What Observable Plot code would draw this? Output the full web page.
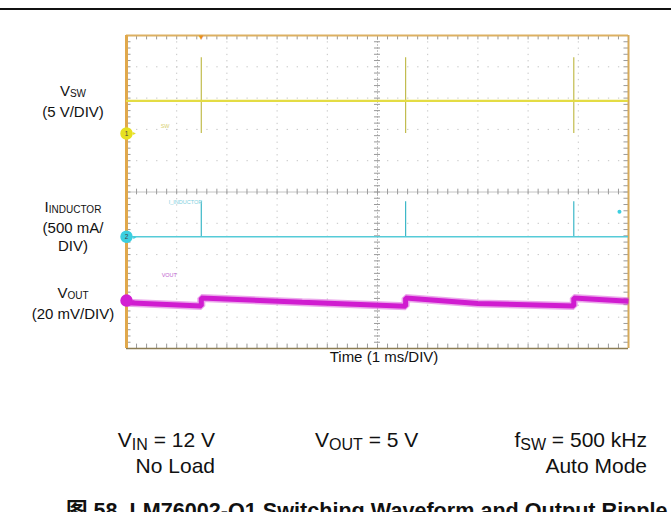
<!DOCTYPE html>
<html>
<head>
<meta charset="utf-8">
<script src="https://cdn.jsdelivr.net/npm/d3@7"></script>
<script src="https://cdn.jsdelivr.net/npm/@observablehq/plot@0.6"></script>
<style>
  html, body { margin: 0; padding: 0; background: #fff; }
  #wrap { position: relative; width: 671px; height: 512px; overflow: hidden;
          font-family: "Liberation Sans", Arial, "Noto Sans CJK SC", sans-serif; color: #111; }
  .lbl { position: absolute; text-align: center; font-size: 15px; line-height: 18px; white-space: nowrap; }
  .lbl .s { font-size: 10px; vertical-align: -1px; }
  .cond { position: absolute; font-size: 21px; line-height: 24px; white-space: nowrap; }
  .cond .s { font-size: 16px; vertical-align: -3px; }
  #title { position: absolute; left: 66px; top: 499px; font-size: 21.6px; line-height: 24px;
           font-weight: bold; white-space: nowrap; }
</style>
</head>
<body>
<div id="wrap">
  <div id="chart" style="position:absolute;left:0;top:0"></div>
  <div style="position:absolute;left:0;top:8px;width:671px;height:2px;background:#111"></div>

  <div class="lbl" style="left:13px;width:120px;top:82px">V<span class="s">SW</span><br>(5 V/DIV)</div>
  <div class="lbl" style="left:13px;width:120px;top:198px">I<span class="s">INDUCTOR</span><br>(500 mA/<br>DIV)</div>
  <div class="lbl" style="left:13px;width:120px;top:284px">V<span class="s">OUT</span><br>(20 mV/DIV)</div>
  <div class="lbl" style="left:284px;width:200px;top:348px">Time (1 ms/DIV)</div>

  <div class="cond" style="right:456px;top:428px;text-align:right">V<span class="s">IN</span> = 12 V</div>
  <div class="cond" style="right:456px;top:454px;text-align:right">No Load</div>
  <div class="cond" style="left:315px;top:428px">V<span class="s">OUT</span> = 5 V</div>
  <div class="cond" style="right:24px;top:428px;text-align:right">f<span class="s">SW</span> = 500 kHz</div>
  <div class="cond" style="right:24px;top:454px;text-align:right">Auto Mode</div>

  <div id="title">图 58. LM76002-Q1 Switching Waveform and Output Ripple</div>
</div>
<script>
// ---- data (time in ms) ----
const spikeTimes = [1.49, 5.56, 8.91];          // switching bursts
const vswLevel = 5.2;                            // V, switch node idle level
const vswSpikeHigh = 12.1;                       // V
const vswSpikeLow = 0;                           // V
const indBase = 0;                               // A
const indSpikePeak = 0.56;                       // A
const voutT  = [0,    1.49, 1.49, 3.5,  5.56, 5.56, 7.0,  8.91, 8.91, 10];
const voutMV = [-1.3, -3.5, 1.7,  -1.0, -3.6, 1.6,  -1.8, -3.5, 1.6,  -0.4];

// scope settings
const vswPerDiv = 5, indPerDiv = 0.5, voutPerDiv = 20;
const vswOffset = 1.87, indOffset = -1.43, voutOffset = -3.47;   // divisions

// tiny on-screen channel tags
const tagText = ["SW", "I_INDUCTOR", "VOUT"];
const tagT    = [0.68, 0.84, 0.70];
const tagY    = [2.10, -0.34, -2.67];
const tagFill = ["#d8d070", "#7fd0e0", "#c060d0"];

const voutData = voutT.map((t, i) => ({t, mV: voutMV[i]}));
const tags = tagText.map((s, i) => ({s, t: tagT[i], y: tagY[i], fill: tagFill[i]}));
const markers = [
  {y: vswOffset, fill: "#e6e020", label: "1"},
  {y: indOffset, fill: "#3ccfe0", label: "2"},
  {y: voutOffset, fill: "#d21fd2", label: ""}
];

const minorT = d3.range(0, 10.0001, 0.2);
const minorY = d3.range(-5, 5.0001, 0.2);
const majorT = [1, 2, 3, 4, 6, 7, 8, 9];
const majorY = [-4, -3, -2, -1, 1, 2, 3, 4];
const tickC = "#9a9a9a";

const chart = Plot.plot({
  width: 671, height: 360,
  marginLeft: 126, marginRight: 43, marginTop: 35, marginBottom: 12,
  x: {domain: [0, 10], axis: null},
  y: {domain: [-5, 5], axis: null},
  style: {background: "transparent", fontFamily: "Liberation Sans, Arial, sans-serif"},
  marks: [
    // dotted graticule
    Plot.ruleX(majorT, {stroke: "#c4c4c4", strokeDasharray: "1.3,4.97"}),
    Plot.ruleY(majorY, {stroke: "#c4c4c4", strokeDasharray: "1.3,8.74"}),
    // centre cross
    Plot.ruleY([0], {stroke: "#c4c4c4"}),
    Plot.ruleX([5], {stroke: "#c4c4c4", strokeDasharray: "2,1"}),
    Plot.ruleX(minorT, {x: d => d, y1: -0.09, y2: 0.09, stroke: tickC}),
    Plot.ruleY(minorY, {y: d => d, x1: 4.94, x2: 5.06, stroke: tickC}),
    // edge ticks
    Plot.ruleX(minorT, {x: d => d, y1: 4.86, y2: 5, stroke: tickC}),
    Plot.ruleX(minorT, {x: d => d, y1: -5, y2: -4.86, stroke: tickC}),
    Plot.ruleY(minorY, {y: d => d, x1: 0, x2: 0.09, stroke: tickC}),
    Plot.ruleY(minorY, {y: d => d, x1: 9.91, x2: 10, stroke: tickC}),
    // frame
    Plot.ruleY([5], {stroke: "#dcb062", strokeWidth: 2}),
    Plot.ruleY([-5], {stroke: "#8c7c52", strokeWidth: 1.5}),
    Plot.ruleX([10], {stroke: "#d6aa5a", strokeWidth: 2}),
    Plot.ruleX([0], {stroke: "#e0a84c", strokeWidth: 3}),

    // CH1 switch node
    Plot.ruleX(spikeTimes, {x: d => d, y1: vswOffset + vswSpikeLow / vswPerDiv,
      y2: vswOffset + vswSpikeHigh / vswPerDiv, stroke: "#c2bc4e", strokeWidth: 1.2}),
    Plot.ruleY([vswLevel], {y: d => vswOffset + d / vswPerDiv, x1: 0, x2: 10, stroke: "#e4dc44", strokeWidth: 2.2}),

    // CH2 inductor current
    Plot.ruleX(spikeTimes, {x: d => d, y1: indOffset + indBase / indPerDiv,
      y2: indOffset + indSpikePeak / indPerDiv, stroke: "#3cb8c8", strokeWidth: 1.2}),
    Plot.ruleY([indBase], {y: d => indOffset + d / indPerDiv, x1: 0, x2: 10, stroke: "#56cbd8", strokeWidth: 1.6}),

    // CH3 output ripple (noisy thick trace)
    Plot.line(voutData, {x: "t", y: d => voutOffset + d.mV / voutPerDiv, stroke: "#d84fd8",
      strokeWidth: 8, strokeOpacity: 0.5, curve: "linear", strokeLinecap: "butt", strokeLinejoin: "miter"}),
    Plot.line(voutData, {x: "t", y: d => voutOffset + d.mV / voutPerDiv, stroke: "#d01cd0",
      strokeWidth: 5, curve: "linear", strokeLinecap: "butt", strokeLinejoin: "miter"}),

    // channel tags
    Plot.text(tags, {x: "t", y: "y", text: "s", fill: "fill", fontSize: 5.5, textAnchor: "start"}),

    // channel ground markers
    Plot.dot(markers, {x: 0, y: "y", r: 5.5, fill: "fill", stroke: "fill"}),
    Plot.text(markers, {x: 0, y: "y", text: "label", fontSize: 6.5, fill: "#444"}),
    Plot.text(markers, {x: 0.16, y: "y", text: () => "▸", fontSize: 6, fill: "fill"}),

    // trigger position marker and CH2 marker at right
    Plot.text([spikeTimes[0]], {x: d => d, y: 4.93, text: () => "▼", fontSize: 8, fill: "#e8901c"}),
    Plot.dot([9.82], {x: d => d, y: -0.63, r: 2, fill: "#3ccfe0"})
  ]
});
document.getElementById("chart").appendChild(chart);
</script>
</body>
</html>
